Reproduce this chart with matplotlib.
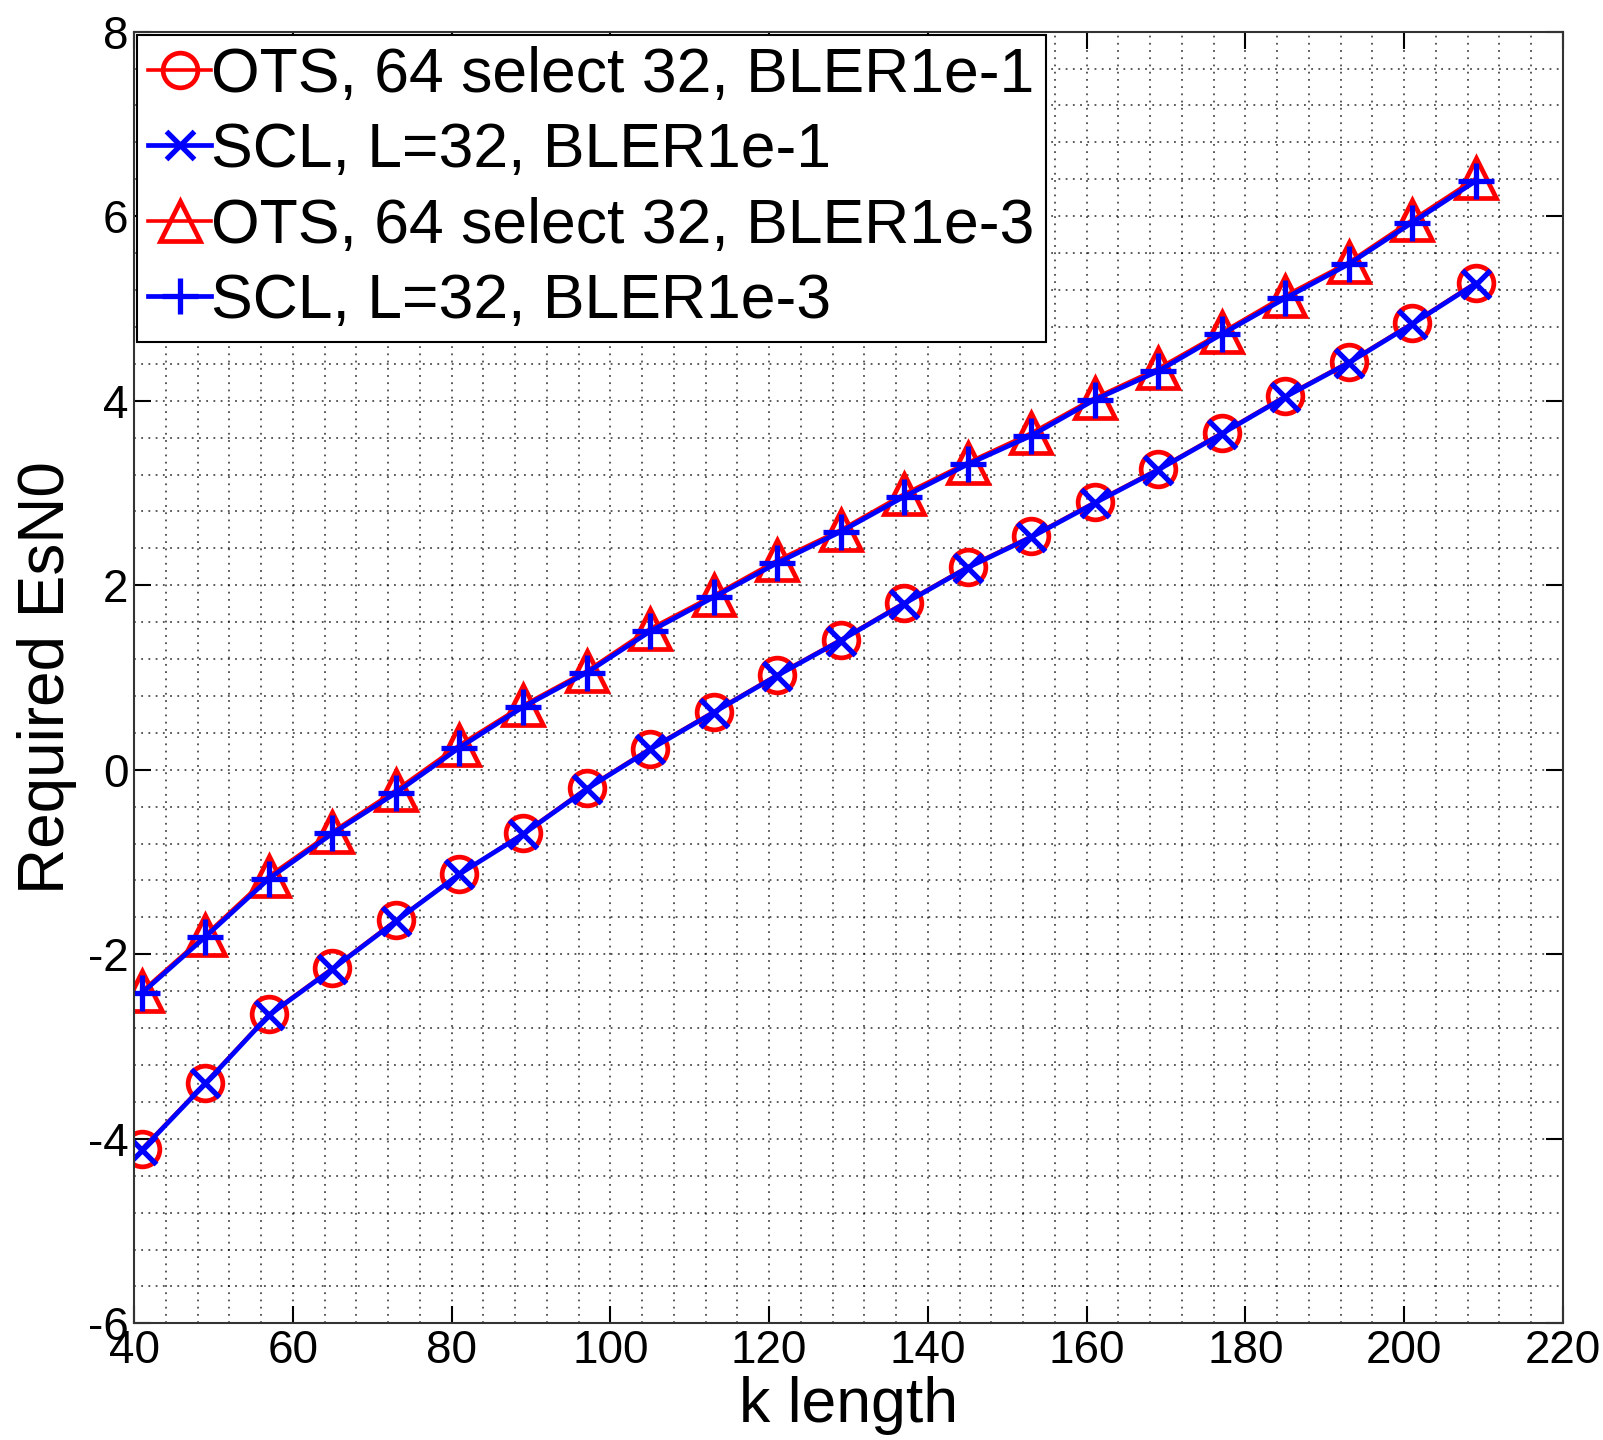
import matplotlib
matplotlib.use("Agg")
import matplotlib.pyplot as plt
from matplotlib.ticker import MultipleLocator

plt.rcParams["font.family"] = ["Liberation Sans", "DejaVu Sans"]
plt.rcParams["axes.unicode_minus"] = False

# k lengths
k_len = [41, 49, 57, 65, 73, 81, 89, 97, 105, 113, 121, 129, 137, 145,
         153, 161, 169, 177, 185, 193, 201, 209]

# required EsN0 at BLER 1e-1
ots_1e1 = [-4.11, -3.39, -2.65, -2.15, -1.63, -1.13, -0.69, -0.20, 0.23, 0.63, 1.03,
           1.41, 1.81, 2.20, 2.53, 2.90, 3.26, 3.65, 4.05, 4.42, 4.84, 5.28]
scl_1e1 = [-4.12, -3.40, -2.66, -2.16, -1.64, -1.13, -0.70, -0.21, 0.22, 0.62, 1.02,
           1.40, 1.80, 2.19, 2.52, 2.89, 3.25, 3.64, 4.04, 4.41, 4.83, 5.27]

# required EsN0 at BLER 1e-3
ots_1e3 = [-2.40, -1.79, -1.15, -0.67, -0.22, 0.27, 0.70, 1.07, 1.53, 1.89, 2.27,
           2.60, 2.99, 3.33, 3.65, 4.03, 4.35, 4.74, 5.14, 5.50, 5.96, 6.41]
scl_1e3 = [-2.42, -1.81, -1.18, -0.69, -0.25, 0.24, 0.68, 1.05, 1.50, 1.87, 2.24,
           2.58, 2.96, 3.31, 3.62, 4.01, 4.32, 4.72, 5.11, 5.48, 5.93, 6.38]

fig = plt.figure(figsize=(16.03, 14.40), dpi=100)
ax = fig.add_axes([0.0836, 0.081, 0.8914, 0.897])

ax.plot(k_len, ots_1e1, color="red", marker="o", ms=25, mew=3.4, mfc="none", lw=2.6,
        label="OTS, 64 select 32, BLER1e-1")
ax.plot(k_len, scl_1e1, color="blue", marker="x", ms=20, mew=3.8, lw=3.4,
        label="SCL, L=32, BLER1e-1")
ax.plot(k_len, ots_1e3, color="red", marker="^", ms=29, mew=3.4, mfc="none", lw=2.6,
        label="OTS, 64 select 32, BLER1e-3")
ax.plot(k_len, scl_1e3, color="blue", marker="+", ms=26, mew=3.8, lw=3.4,
        label="SCL, L=32, BLER1e-3")

ax.set_xlim(40, 220)
ax.set_ylim(-6, 8)
ax.xaxis.set_major_locator(MultipleLocator(20))
ax.yaxis.set_major_locator(MultipleLocator(2))
ax.xaxis.set_minor_locator(MultipleLocator(4))
ax.yaxis.set_minor_locator(MultipleLocator(0.4))

ax.grid(True, which="both", linestyle=(0, (1, 3)), color="black", lw=1.3, alpha=0.7)
ax.tick_params(which="major", direction="in", length=12, width=1.5, labelsize=33,
               top=True, right=True, pad=4)
ax.tick_params(which="minor", length=0)
for s in ax.spines.values():
    s.set_linewidth(1.5)
    s.set_color("#333333")

ax.set_xlabel("k length", fontsize=45, labelpad=2)
ax.set_ylabel("Required EsN0", fontsize=46, labelpad=8)

leg = ax.legend(loc="upper left", fontsize=45, borderaxespad=0.05, handlelength=1.0,
                handletextpad=0.0, borderpad=0.18, labelspacing=0.26, fancybox=False,
                framealpha=1, edgecolor="black")
leg.get_frame().set_linewidth(1.5)

fig.savefig("out.png", dpi=100)
